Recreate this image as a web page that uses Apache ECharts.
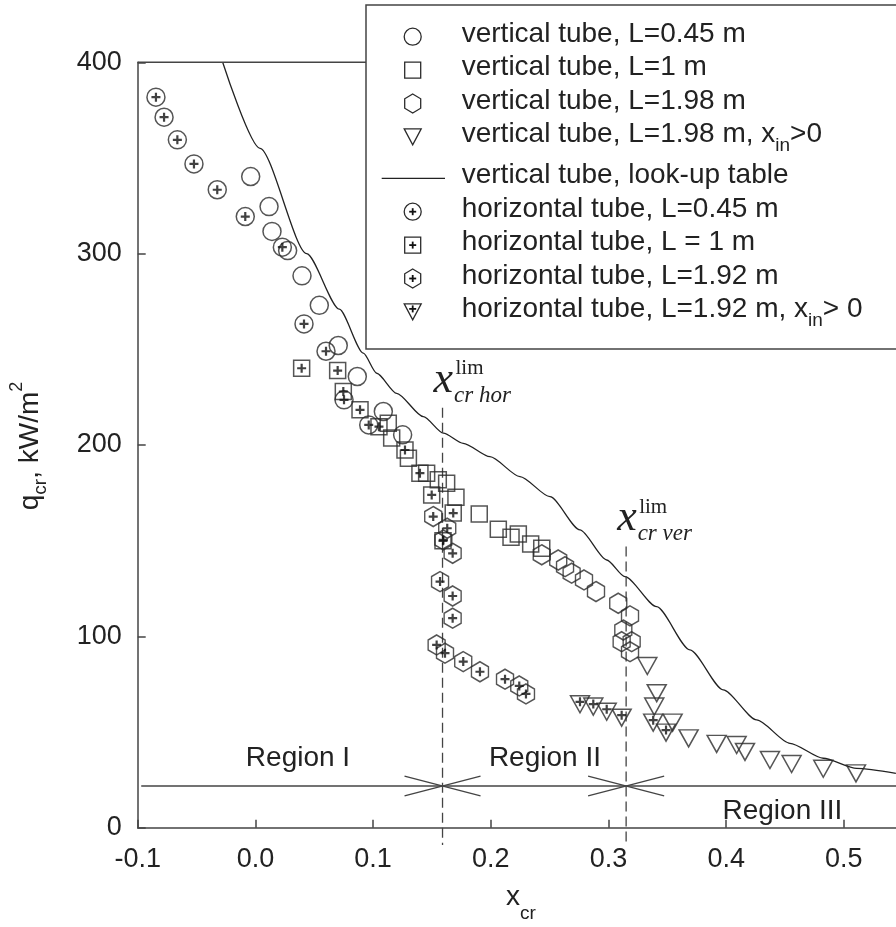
<!DOCTYPE html>
<html><head><meta charset="utf-8">
<script src="https://cdn.jsdelivr.net/npm/echarts@6/dist/echarts.min.js"></script>
<style>html,body{margin:0;padding:0;background:#fff}#c{width:896px;height:927px}</style>
</head><body><div id="c"></div>
<script>
// ---- data (x_cr, q_cr kW/m2) ----
const vertCircle = [[-0.004,340.3],[0.0116,324.6],[0.0141,311.6],[0.0274,301.6],[0.0396,288.4],[0.0543,273.0],[0.0704,252.0],[0.0866,235.8],[0.1087,217.5],[0.1251,205.3]];
const vertSquare = [[0.1129,211.4],[0.1158,203.6],[0.1300,193.1],[0.1455,185.3],[0.1554,181.8],[0.1625,180.0],[0.1704,172.7],[0.1902,164.0],[0.2064,156.0],[0.2172,151.8],[0.2234,153.5],[0.2339,148.3],[0.2433,146.1]];
const vertHex = [[0.2433,142.6],[0.2573,139.9],[0.2631,136.4],[0.2687,133.0],[0.2792,129.5],[0.2894,123.4],[0.3083,117.3],[0.3183,110.7],[0.3126,103.3],[0.3112,97.2],[0.3197,97.2],[0.3183,92.0]];
const vertTri = [[0.333,84.5],[0.341,70.3],[0.3389,63.3],[0.3545,54.9],[0.3681,46.7],[0.3919,43.8],[0.4089,43.2],[0.416,39.6],[0.4372,35.4],[0.4556,33.3],[0.4825,30.8],[0.5103,28.4]];
const lookupTable = [[-0.0278,400],[0.0039,355],[0.0436,300],[0.0713,271],[0.0917,248],[0.1031,237.5],[0.12,227],[0.1427,214.8],[0.1597,206.2],[0.1766,200.9],[0.1993,193.9],[0.2248,183.5],[0.2503,173],[0.2758,155.6],[0.2985,139.9],[0.314,131.2],[0.3409,115.5],[0.3692,92.9],[0.3975,72],[0.4259,56.3],[0.4542,44.1],[0.4825,36.3],[0.5109,31],[0.5442,28.4]];
const horCircle = [[-0.0845,381.8],[-0.0776,371.3],[-0.0663,359.5],[-0.0522,346.9],[-0.0324,333.4],[-0.0086,319.4],[0.0229,303.4],[0.0413,263.3],[0.0600,249.0],[0.0753,223.6],[0.0963,210.5]];
const horSquare = [[0.0393,240.1],[0.0699,238.9],[0.0747,227.9],[0.0889,218.4],[0.1050,209.6],[0.1271,197.4],[0.1398,185.3],[0.1498,173.9],[0.1681,164.4],[0.1594,149.9]];
const horHex = [[0.1511,162.6],[0.1630,156.5],[0.1597,150.4],[0.1676,143.4],[0.1569,128.6],[0.1676,121.1],[0.1676,109.5],[0.1540,95.5],[0.1611,91.2],[0.1766,86.8],[0.1908,81.5],[0.2121,77.6],[0.2242,74.1],[0.2299,69.9]];
const horTri = [[0.2758,64.5],[0.2871,63.3],[0.2985,60.6],[0.3112,57.5],[0.338,54.9],[0.3489,49.7]];

// ---- axes ----
const xMin = -0.1, xMax = 0.5443, xStep = 0.1;
const yMin = 0, yMax = 400, yStep = 100;

// ---- annotations ----
const limX = [0.159, 0.315];          // x_cr^lim hor, ver
const limTop = [219.5, 146.9];        // top of dashed lines
const limBottom = -9;
const limNames = ['cr hor', 'cr ver'];
const limLabelY = [226.2, 153.9];
const regionY = 21.8;
const regionNames = ['Region I', 'Region II', 'Region III'];
const regionAt = [[0.0362, 36.4], [0.246, 36.4], [0.4478, 8.4]];
const legendNames = ['vertical tube, L=0.45 m','vertical tube, L=1 m','vertical tube, L=1.98 m','vertical tube, L=1.98 m, x{s|in}>0','vertical tube, look-up table','horizontal tube, L=0.45 m','horizontal tube, L = 1 m','horizontal tube, L=1.92 m','horizontal tube, L=1.92 m, x{s|in}> 0'];
const legendIcons = ['circle','square','hex','tri','line','circle','square','hex','tri'];
const legendPlus = [false,false,false,false,false,true,true,true,true];

const SANS = '"Liberation Sans", Arial, sans-serif';
const SERIF = '"Liberation Serif", "Times New Roman", serif';
const INK = '#2b2b2b';
const HEX = 'path://M0,-10 L8.66,-5 L8.66,5 L0,10 L-8.66,5 L-8.66,-5 Z';
const PLUS = 'path://M-5,0 L5,0 M0,-5 L0,5';

function sc(name, data, symbol, size, rot) {
  return {type:'scatter', name, data, symbol, symbolSize:size, symbolRotate: rot||0,
    itemStyle:{color:'rgba(0,0,0,0)', borderColor:INK, borderWidth:1.5}, z:3, silent:true};
}
function plus(data, off) {
  return {type:'scatter', data, symbol:PLUS, symbolSize:9, symbolOffset:[0, off||0],
    itemStyle:{color:'rgba(0,0,0,0)', borderColor:'#111', borderWidth:2.2}, z:4, silent:true};
}
function seg(a, b, dashed) {
  return {type:'line', data:[a,b], showSymbol:false, clip:false, silent:true, z:2,
    lineStyle:{color:'#444', width:1.3, type: dashed ? [10,5] : 'solid'}};
}

const series = [
  sc('vertical tube, L=0.45 m', vertCircle, 'circle', 18),
  sc('vertical tube, L=1 m', vertSquare, 'rect', 16),
  sc('vertical tube, L=1.98 m', vertHex, HEX, [17,20]),
  sc('vertical tube, L=1.98 m, xin>0', vertTri, 'triangle', [19,17], 180),
  {type:'line', name:'vertical tube, look-up table', data:lookupTable, showSymbol:false, smooth:0.25, smoothMonotone:'x',
    lineStyle:{color:'#222', width:1.3}, z:2, silent:true},
  sc('horizontal tube, L=0.45 m', horCircle, 'circle', 18), plus(horCircle),
  sc('horizontal tube, L = 1 m', horSquare, 'rect', 16), plus(horSquare),
  sc('horizontal tube, L=1.92 m', horHex, HEX, [17,20]), plus(horHex),
  sc('horizontal tube, L=1.92 m, xin> 0', horTri, 'triangle', [19,17], 180), plus(horTri, -2.5),
  seg([-0.097, regionY], [xMax, regionY], false)
];
const dxA = 0.0323, dyA = 5.2;
limX.forEach((lx, i) => {
  series.push(seg([lx, limTop[i]], [lx, limBottom], true));
  series.push(seg([lx - dxA, regionY + dyA], [lx + dxA, regionY - dyA], false));
  series.push(seg([lx - dxA, regionY - dyA], [lx + dxA, regionY + dyA], false));
});

const onStep = v => Math.abs(v / xStep - Math.round(v / xStep)) < 1e-6;
const option = {
  animation:false,
  backgroundColor:'#fff',
  grid:{left:137.7, top:62.3, bottom:99.3, right:0, show:false},
  xAxis:{type:'value', min:xMin, max:xMax, interval:xStep,
    axisLine:{onZero:false, lineStyle:{color:'#444', width:1.5}},
    axisTick:{inside:true, length:8, lineStyle:{color:'#444', width:1.5}},
    splitLine:{show:false},
    axisLabel:{margin:18, fontSize:27, fontFamily:SANS, color:'#222', showMaxLabel:false,
      formatter:v => onStep(v) ? v.toFixed(1) : ''}},
  yAxis:{type:'value', min:yMin, max:yMax, interval:yStep,
    axisLine:{onZero:false, lineStyle:{color:'#444', width:1.5}},
    axisTick:{inside:true, length:8, lineStyle:{color:'#444', width:1.5}},
    splitLine:{show:false},
    axisLabel:{margin:16, fontSize:27, fontFamily:SANS, color:'#222'}},
  series
};

const chart = echarts.init(document.getElementById('c'));
chart.setOption(option);
const P = (x, y) => chart.convertToPixel({gridIndex:0}, [x, y]);

const g = [];
// top frame line of the plot
const tl = P(xMin, yMax);
g.push({type:'line', shape:{x1:tl[0], y1:tl[1], x2:900, y2:tl[1]}, style:{stroke:'#444', lineWidth:1.5}, z:40});
// Legend box
g.push({type:'rect', shape:{x:366, y:5, width:600, height:344}, style:{fill:'#fff', stroke:'#444', lineWidth:1.5}, z:100});
const iconX = 412.7;
let ty = 34;
legendNames.forEach((name, i) => {
  if (i > 0) ty += 33.4;
  if (i === 4) ty += 8;
  const cy = ty + 2.7;
  const st = {fill:'none', stroke:INK, lineWidth:1.3};
  const k = legendIcons[i];
  if (k === 'circle') g.push({type:'circle', shape:{cx:iconX, cy, r:8.5}, style:st, z:101});
  if (k === 'square') g.push({type:'rect', shape:{x:iconX-8, y:cy-8, width:16, height:16}, style:st, z:101});
  if (k === 'hex') g.push({type:'polygon', shape:{points:[[iconX,cy-9.5],[iconX+8,cy-4.75],[iconX+8,cy+4.75],[iconX,cy+9.5],[iconX-8,cy+4.75],[iconX-8,cy-4.75]]}, style:st, z:101});
  if (k === 'tri') g.push({type:'polygon', shape:{points:[[iconX-8.5,cy-8],[iconX+8.5,cy-8],[iconX,cy+8]]}, style:st, z:101});
  if (k === 'line') g.push({type:'line', shape:{x1:381.7, y1:cy, x2:445, y2:cy}, style:{stroke:'#222', lineWidth:1.3}, z:101});
  if (legendPlus[i]) {
    const py = k === 'tri' ? cy - 3 : cy;
    g.push({type:'line', shape:{x1:iconX-3.5, y1:py, x2:iconX+3.5, y2:py}, style:{stroke:'#111', lineWidth:1.8}, z:101});
    g.push({type:'line', shape:{x1:iconX, y1:py-3.5, x2:iconX, y2:py+3.5}, style:{stroke:'#111', lineWidth:1.8}, z:101});
  }
  g.push({type:'text', x:461.7, y:ty, z:101, style:{text:name, fontSize:28, fontFamily:SANS, fill:'#222',
    align:'left', verticalAlign:'middle', lineHeight:40,
    rich:{s:{fontSize:19, fontFamily:SANS, fill:'#222', height:16, verticalAlign:'bottom'}}}});
});

// Region labels
regionNames.forEach((t, i) => {
  const p = P(regionAt[i][0], regionAt[i][1]);
  g.push({type:'text', x:p[0], y:p[1], z:50, style:{text:t, fontSize:28, fontFamily:SANS, fill:'#222', align:'center', verticalAlign:'middle'}});
});

// x_cr^lim labels
limX.forEach((lx, i) => {
  const p = P(lx, limLabelY[i]);
  const bx = p[0], by = p[1];
  g.push({type:'text', x:bx-9, y:by-0.3375*44, z:50, style:{text:'x', font:'italic 44px ' + SERIF, fill:'#222', align:'left', verticalAlign:'middle'}});
  g.push({type:'text', x:bx+13, y:by-19-0.3375*21, z:50, style:{text:'lim', font:'21px ' + SERIF, fill:'#222', align:'left', verticalAlign:'middle'}});
  g.push({type:'text', x:bx+11.5, y:by+8.5-0.3375*23, z:50, style:{text:limNames[i], font:'italic 23px ' + SERIF, fill:'#222', align:'left', verticalAlign:'middle'}});
});

// axis names
g.push({type:'text', x:521, y:897, z:50, style:{text:'x{s|cr}', fontSize:28, fontFamily:SANS, fill:'#222', align:'center', verticalAlign:'middle', lineHeight:40,
  rich:{s:{fontSize:19, fontFamily:SANS, fill:'#222', height:7, verticalAlign:'bottom'}}}});
g.push({type:'text', x:30, y:446, rotation:Math.PI/2, z:50, style:{text:'q{s|cr}, kW/m{p|2}', fontSize:28, fontFamily:SANS, fill:'#222', align:'center', verticalAlign:'middle', lineHeight:40,
  rich:{s:{fontSize:19, fontFamily:SANS, fill:'#222', height:18, verticalAlign:'bottom'},
        p:{fontSize:18, fontFamily:SANS, fill:'#222', height:14, verticalAlign:'top'}}}});

chart.setOption({graphic:g});
</script></body></html>
